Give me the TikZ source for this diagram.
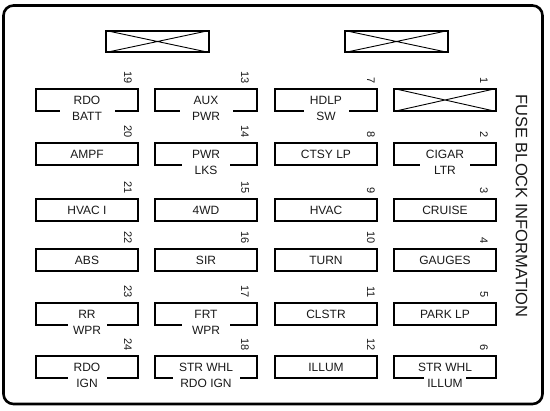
\documentclass[tikz,border=0pt]{standalone}
\usepackage{fontspec}
\setmainfont{Liberation Sans}
\usepackage{tikz}
\usetikzlibrary{positioning,calc}
\definecolor{inkgray}{RGB}{25,25,25}

\tikzset{
  fuse/.style={draw=black,line width=1.1pt,minimum width=102pt,minimum height=22pt,
    inner sep=0pt,text=inkgray,font=\fontsize{12}{14}\selectfont},
  lower/.style={fill=white,inner xsep=0pt,inner ysep=2pt,minimum height=0pt,
    text=inkgray,font=\fontsize{12}{14}\selectfont},
  fusenum/.style={rotate=-90,anchor=east,inner sep=0pt,text=inkgray,
    font=\fontsize{11}{12}\selectfont},
  spare/.style={draw=black,line width=1.1pt,minimum width=103pt,minimum height=21pt,inner sep=0pt}
}

\begin{document}
\begin{tikzpicture}[x=1pt,y=-1pt]
  \useasboundingbox (0,0) rectangle (550,411);
  \fill[white] (0,0) rectangle (550,411);
  \draw[line width=2.6pt,rounded corners=10pt] (3.5,5.5) rectangle (542.5,404);

  % spare slots at the top
  \node[spare] (sp1) at (157.5,41.5) {};
  \draw[line width=0.9pt] (sp1.north west) -- (sp1.south east) (sp1.south west) -- (sp1.north east);
  \node[spare] (sp2) at (396.5,41.5) {};
  \draw[line width=0.9pt] (sp2.north west) -- (sp2.south east) (sp2.south west) -- (sp2.north east);

  % column 1
  \node[fuse] (f19) at (87,100) {RDO};
  \node[lower,minimum width=55pt] (f19b) at ([yshift=-5pt]f19.south) {BATT};
  \node[fusenum] (n19) at (128,84) {19};
  \node[fuse] (f20) at (87,154) {AMPF};
  \node[fusenum] (n20) at (128,138) {20};
  \node[fuse] (f21) at (87,210) {HVAC I};
  \node[fusenum] (n21) at (128,194) {21};
  \node[fuse] (f22) at (87,260) {ABS};
  \node[fusenum] (n22) at (128,244) {22};
  \node[fuse] (f23) at (87,314) {RR};
  \node[lower,minimum width=39pt] (f23b) at ([yshift=-5pt]f23.south) {WPR};
  \node[fusenum] (n23) at (128,298) {23};
  \node[fuse] (f24) at (87,367) {RDO};
  \node[lower,minimum width=39pt] (f24b) at ([yshift=-5pt]f24.south) {IGN};
  \node[fusenum] (n24) at (128,351) {24};

  % column 2
  \node[fuse] (f13) at (206,100) {AUX};
  \node[lower,minimum width=53pt] (f13b) at ([yshift=-5pt]f13.south) {PWR};
  \node[fusenum] (n13) at (245,84) {13};
  \node[fuse] (f14) at (206,154) {PWR};
  \node[lower,minimum width=48pt] (f14b) at ([yshift=-5pt]f14.south) {LKS};
  \node[fusenum] (n14) at (245,138) {14};
  \node[fuse] (f15) at (206,210) {4WD};
  \node[fusenum] (n15) at (245,194) {15};
  \node[fuse] (f16) at (206,260) {SIR};
  \node[fusenum] (n16) at (245,244) {16};
  \node[fuse] (f17) at (206,314) {FRT};
  \node[lower,minimum width=48pt] (f17b) at ([yshift=-5pt]f17.south) {WPR};
  \node[fusenum] (n17) at (245,298) {17};
  \node[fuse] (f18) at (206,367) {STR WHL};
  \node[lower,minimum width=67pt] (f18b) at ([yshift=-5pt]f18.south) {RDO IGN};
  \node[fusenum] (n18) at (245,351) {18};

  % column 3
  \node[fuse] (f7) at (326,100) {HDLP};
  \node[lower,minimum width=45pt] (f7b) at ([yshift=-5pt]f7.south) {SW};
  \node[fusenum] (n7) at (371,84) {7};
  \node[fuse] (f8) at (326,154) {CTSY LP};
  \node[fusenum] (n8) at (371,138) {8};
  \node[fuse] (f9) at (326,210) {HVAC};
  \node[fusenum] (n9) at (371,194) {9};
  \node[fuse] (f10) at (326,260) {TURN};
  \node[fusenum] (n10) at (371,244) {10};
  \node[fuse] (f11) at (326,314) {CLSTR};
  \node[fusenum] (n11) at (371,298) {11};
  \node[fuse] (f12) at (326,367) {ILLUM};
  \node[fusenum] (n12) at (371,351) {12};

  % column 4
  \node[fuse] (f1) at (445,100) {};
  \draw[line width=0.9pt] (f1.north west) -- (f1.south east) (f1.south west) -- (f1.north east);
  \node[fusenum] (n1) at (484,84) {1};
  \node[fuse] (f2) at (445,154) {CIGAR};
  \node[lower,minimum width=50pt] (f2b) at ([yshift=-5pt]f2.south) {LTR};
  \node[fusenum] (n2) at (484,138) {2};
  \node[fuse] (f3) at (445,210) {CRUISE};
  \node[fusenum] (n3) at (484,194) {3};
  \node[fuse] (f4) at (445,260) {GAUGES};
  \node[fusenum] (n4) at (484,244) {4};
  \node[fuse] (f5) at (445,314) {PARK LP};
  \node[fusenum] (n5) at (484,298) {5};
  \node[fuse] (f6) at (445,367) {STR WHL};
  \node[lower,minimum width=42pt] (f6b) at ([yshift=-5pt]f6.south) {ILLUM};
  \node[fusenum] (n6) at (484,351) {6};

  \node[rotate=-90,text=inkgray,font=\fontsize{16.5}{18}\selectfont] (title) at (521.5,206) {FUSE BLOCK INFORMATION};
\end{tikzpicture}
\end{document}
